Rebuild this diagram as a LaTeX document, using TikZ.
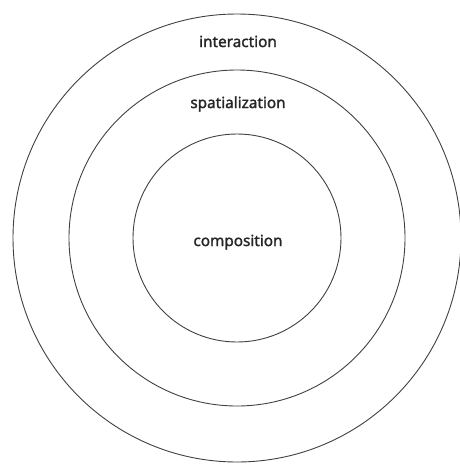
\documentclass[tikz,border=0pt]{standalone}
\usepackage{fontspec}
\setmainfont{Noto Sans}
\newfontfamily\lblfont{Noto Sans}[FakeBold=1.6]
\begin{document}
\begin{tikzpicture}[x=1pt,y=-1pt,
  ring/.style={draw=black!75,line width=0.9pt},
  lbl/.style={font=\fontsize{15.3}{18}\lblfont,text=black!85,inner sep=0pt,anchor=base}]
\useasboundingbox (0,0) rectangle (459,464);
\coordinate (c) at (237,238);
\node[ring,circle,minimum size=448pt,inner sep=0pt] (outer) at (c) {};
\node[ring,circle,minimum size=336pt,inner sep=0pt] (middle) at (c) {};
\node[ring,circle,minimum size=208pt,inner sep=0pt] (inner) at (c) {};
\node[lbl] (interaction) at (238,47) {interaction};
\node[lbl] (spatialization) at (238,108) {spatialization};
\node[lbl] (composition) at (238,246) {composition};
\end{tikzpicture}
\end{document}
